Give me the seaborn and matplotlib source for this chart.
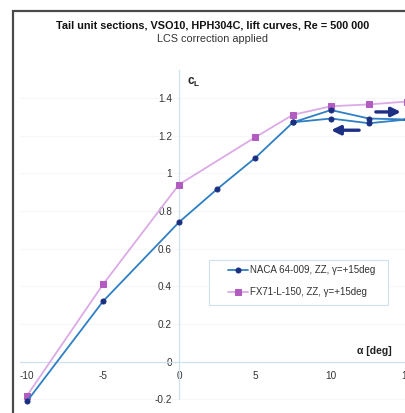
import numpy as np
import pandas as pd
import matplotlib
matplotlib.use("Agg")
import matplotlib.pyplot as plt
import seaborn as sns
from matplotlib.patches import Rectangle

# ---- data ----
naca_alpha = [-10, -5, 0, 2.5, 5, 7.5, 10, 12.5, 15, 12.5, 10, 7.5]
naca_cl = [-0.21, 0.32, 0.74, 0.915, 1.08, 1.27, 1.335, 1.29, 1.285, 1.265, 1.29, 1.27]
fx_alpha = [-10, -5, 0, 5, 7.5, 10, 12.5, 15]
fx_cl = [-0.18, 0.41, 0.94, 1.19, 1.31, 1.355, 1.365, 1.38]
naca_label = "NACA 64-009, ZZ, γ=+15deg"
fx_label = "FX71-L-150, ZZ, γ=+15deg"
yticks = [-0.2, 0, 0.2, 0.4, 0.6, 0.8, 1, 1.2, 1.4]
yticklabels = ["-0.2", "0", "0.2", "0.4", "0.6", "0.8", "1", "1.2", "1.4"]
xticks = [-10, -5, 0, 5, 10, 15]

df_naca = pd.DataFrame({"alpha": naca_alpha, "cl": naca_cl})
df_fx = pd.DataFrame({"alpha": fx_alpha, "cl": fx_cl})

sns.set_theme(style="white")
plt.rcParams["font.family"] = ["Liberation Sans", "DejaVu Sans"]
plt.rcParams["mathtext.fontset"] = "custom"
plt.rcParams["mathtext.rm"] = "Liberation Sans"
plt.rcParams["mathtext.bf"] = "Liberation Sans:bold"

W, H = 406, 413
fig = plt.figure(figsize=(W / 100, H / 100), dpi=100)
fig.patch.set_facecolor("white")

# pixel mapping: x=0 at px 179, 15.2 px/unit ; y=0 at px 361.7, 188.5 px/unit
x0px, xs = 179.0, 15.2
y0px, ys = 361.7, 188.5
left_px, right_px, top_px, bot_px = 20, 440, 70, 420
ax = fig.add_axes([left_px / W, 1 - bot_px / H, (right_px - left_px) / W, (bot_px - top_px) / H])
ax.set_xlim((left_px - x0px) / xs, (right_px - x0px) / xs)
ax.set_ylim(-(bot_px - y0px) / ys, (y0px - top_px) / ys)
ax.set_facecolor("white")

blue_line = "#2f7fc4"
blue_mark = "#1b2f80"
pink_line = "#dcaae6"
pink_mark = "#b25cc2"

# faint grid
for yt in yticks:
    if yt != 0:
        ax.axhline(yt, color="#f6f7fb", lw=0.8, zorder=0)

sns.lineplot(data=df_fx, x="alpha", y="cl", sort=False, estimator=None, ax=ax,
             color=pink_line, lw=1.3, marker="s", markersize=4.2,
             markerfacecolor=pink_mark, markeredgecolor=pink_mark, label=fx_label, zorder=3)
sns.lineplot(data=df_naca, x="alpha", y="cl", sort=False, estimator=None, ax=ax,
             color=blue_line, lw=1.3, marker="o", markersize=3.6,
             markerfacecolor=blue_mark, markeredgecolor=blue_mark, label=naca_label, zorder=4)

# axes through origin
for s in ["top", "right"]:
    ax.spines[s].set_visible(False)
ax.spines["left"].set_position(("data", 0))
ax.spines["bottom"].set_position(("data", 0))
ax.spines["left"].set_color("#cfe0ef")
ax.spines["bottom"].set_color("#cfe0ef")
ax.spines["left"].set_linewidth(0.9)
ax.spines["bottom"].set_linewidth(0.9)
ax.spines["left"].set_bounds(-0.2, (y0px - top_px) / ys)

ax.set_xticks(xticks)
ax.set_xticklabels([str(t) for t in xticks])
ax.set_yticks(yticks)
ax.set_yticklabels(yticklabels)
ax.tick_params(axis="both", length=0, labelsize=7.2, labelcolor="#333333")
ax.tick_params(axis="x", pad=7)
ax.tick_params(axis="y", pad=5)
ax.set_xlabel("")
ax.set_ylabel("")

# axis titles
fig.text(187 / W, 1 - 82 / H, r"$\mathbf{c_L}$", fontsize=8.5, color="#222222", ha="left", va="center")
fig.text(392 / W, 1 - 351 / H, "α [deg]", fontsize=7.6, fontweight="bold", color="#222222",
         ha="right", va="center")

# hysteresis arrows
arrow_style = "-|>,head_length=0.45,head_width=0.22"
ax.annotate("", xy=(14.6, 1.325), xytext=(12.95, 1.325),
            arrowprops=dict(arrowstyle=arrow_style, lw=2.4, color="#1e2f86",
                            shrinkA=0, shrinkB=0))
ax.annotate("", xy=(10.0, 1.228), xytext=(11.85, 1.228),
            arrowprops=dict(arrowstyle=arrow_style, lw=2.4, color="#1e2f86",
                            shrinkA=0, shrinkB=0))

# legend (frame drawn separately to match padding)
h, l = ax.get_legend_handles_labels()
order = [l.index(naca_label), l.index(fx_label)]
leg = fig.legend([h[i] for i in order], [l[i] for i in order], loc="upper left",
                 bbox_to_anchor=(228 / W, 1 - 265 / H), fontsize=7.0, frameon=False,
                 handlelength=2.1, handletextpad=0.2,
                 borderpad=0, labelspacing=1.25, borderaxespad=0)
for t in leg.get_texts():
    t.set_color("#333333")
fig.add_artist(Rectangle((209 / W, 1 - 305 / H), (388 - 209) / W, 45 / H,
                         transform=fig.transFigure, fill=True, facecolor="white",
                         edgecolor="#cfe0ef", lw=0.8, zorder=2.5))
leg.set_zorder(5)
if ax.get_legend():
    ax.get_legend().remove()

# titles
fig.text(213 / W, 1 - 25 / H, "Tail unit sections, VSO10, HPH304C, lift curves, Re = 500 000",
         fontsize=7.8, fontweight="bold", color="#111111", ha="center", va="center")
fig.text(213 / W, 1 - 39 / H, "LCS correction applied", fontsize=7.8, color="#333333",
         ha="center", va="center")

# outer frame (left/top visible)
fig.add_artist(Rectangle((13.5 / W, -0.2), 2, 1 - 10.5 / H + 0.2, transform=fig.transFigure,
                         fill=False, edgecolor="#4a4a4a", lw=1.6))

fig.savefig("out.png", dpi=100)
